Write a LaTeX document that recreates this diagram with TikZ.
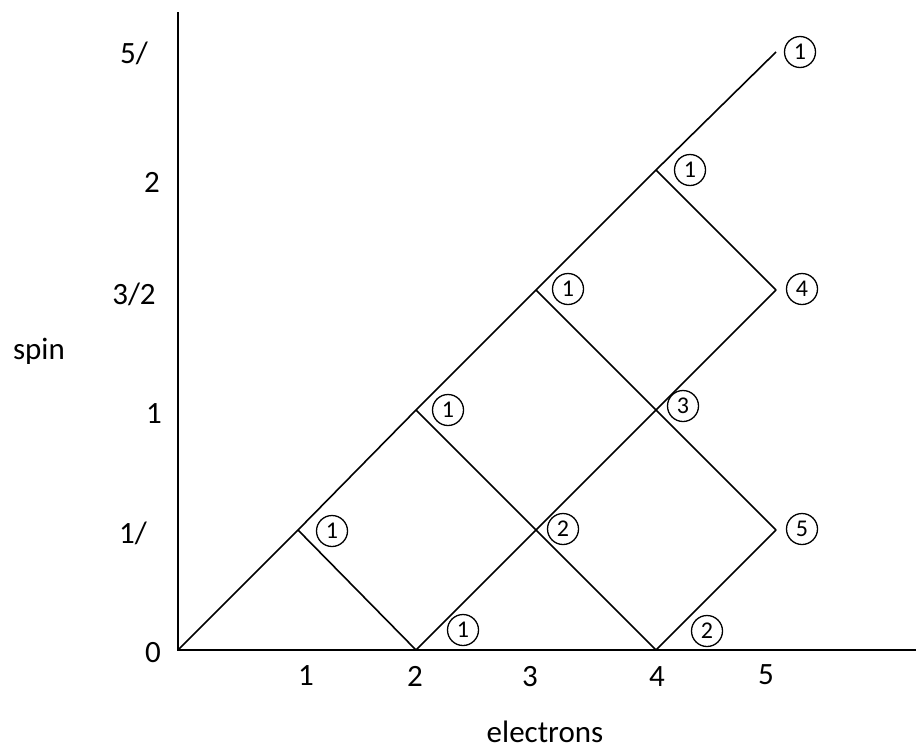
\documentclass[tikz,border=0pt]{standalone}
\usepackage{fontspec}
\setmainfont{Carlito}
\begin{document}
\begin{tikzpicture}[x=1pt,y=-1pt,
  axis/.style={line width=2pt},
  link/.style={line width=1.6pt},
  lbl/.style={font=\fontsize{31}{36}\selectfont, inner sep=0pt, anchor=base},
  num/.style={circle, draw, line width=1.3pt, minimum size=31pt, inner sep=0pt,
    font=\fontsize{24}{26}\selectfont}]
\useasboundingbox (0,0) rectangle (916,750);
% grid points
\coordinate (O) at (178,650);
\coordinate (A) at (298,530);
\coordinate (B) at (416,650);
\coordinate (C) at (416,410);
\coordinate (D) at (536,530);
\coordinate (E) at (536,290);
\coordinate (F) at (656,650);
\coordinate (G) at (656,410);
\coordinate (H) at (656,170);
\coordinate (I) at (776,530);
\coordinate (J) at (776,290);
\coordinate (K) at (776,52);
\coordinate (ytop) at (178,12);
\coordinate (xend) at (916,650);
% axes
\draw[axis] (ytop) -- (O) -- (xend);
% lattice
\draw[link] (O) -- (A) -- (C) -- (E) -- (H) -- (K);
\draw[link] (A) -- (B);
\draw[link] (C) -- (D) -- (F);
\draw[link] (E) -- (G) -- (I);
\draw[link] (H) -- (J);
\draw[link] (B) -- (D) -- (G) -- (J);
\draw[link] (F) -- (I);
% circled multiplicities
\node[num] (n1) at (800,52) {1};
\node[num] (n2) at (690,170) {1};
\node[num] (n3) at (568,289) {1};
\node[num] (n4) at (448,410) {1};
\node[num] (n5) at (332,531) {1};
\node[num] (n6) at (463,630) {1};
\node[num] (n7) at (563,529) {2};
\node[num] (n8) at (683,406) {3};
\node[num] (n9) at (802,289) {4};
\node[num] (n10) at (802,529) {5};
\node[num] (n11) at (707,631) {2};
% x tick labels
\node[lbl] (x1) at (306,685) {1};
\node[lbl] (x2) at (415,686) {2};
\node[lbl] (x3) at (530,686) {3};
\node[lbl] (x4) at (657,686) {4};
\node[lbl] (x5) at (766,684) {5};
\node[lbl] (xl) at (545,742) {electrons};
% y tick labels
\node[lbl] (y0) at (153,662) {0};
\node[lbl] (y1) at (133,543) {1/};
\node[lbl] (y2) at (154,423) {1};
\node[lbl] (y3) at (134,304) {3/2};
\node[lbl] (y4) at (152,192) {2};
\node[lbl] (y5) at (134,63) {5/};
\node[lbl] (yl) at (39,359) {spin};
\end{tikzpicture}
\end{document}
